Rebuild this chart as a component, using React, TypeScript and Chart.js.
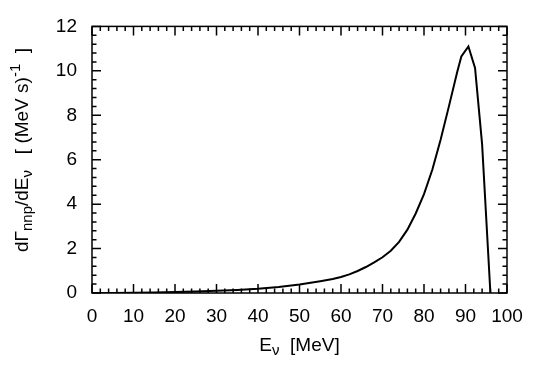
import React, { useEffect, useRef } from "react";
import { Chart, registerables } from "chart.js";

Chart.register(...registerables);

const energies = [0, 5, 10, 15, 20, 25, 30, 35, 40, 45, 50, 55, 58, 60, 62, 64, 66, 68, 70, 72, 74, 76, 78, 80, 82, 84, 86, 88, 89, 90.7, 92.3, 94, 96];
const rates = [0, 0.002, 0.008, 0.02, 0.04, 0.07, 0.1, 0.14, 0.19, 0.27, 0.38, 0.53, 0.63, 0.72, 0.84, 0.99, 1.17, 1.38, 1.61, 1.9, 2.3, 2.85, 3.58, 4.45, 5.55, 6.9, 8.4, 9.95, 10.65, 11.1, 10.13, 6.7, 0];
const xTicks = [0, 10, 20, 30, 40, 50, 60, 70, 80, 90, 100];
const yTicks = [0, 2, 4, 6, 8, 10, 12];
const xMinorStep = 2;
const yMinorStep = 0.4;

const FONT = "'Liberation Sans', Arial, sans-serif";

type Seg = { t: string; k: "n" | "sub" | "sup" };

function drawRich(ctx: CanvasRenderingContext2D, segs: Seg[], cx: number, baseY: number, mainSize: number) {
  const fontFor = (k: string) => (k === "n" ? `${mainSize}px ${FONT}` : `15px ${FONT}`);
  let total = 0;
  const widths = segs.map((s) => {
    ctx.font = fontFor(s.k);
    const w = ctx.measureText(s.t).width;
    total += w;
    return w;
  });
  let x = cx - total / 2;
  ctx.textAlign = "left";
  ctx.textBaseline = "alphabetic";
  segs.forEach((s, i) => {
    ctx.font = fontFor(s.k);
    const dy = s.k === "sub" ? 4 : s.k === "sup" ? -8 : 0;
    ctx.fillText(s.t, x, baseY + dy);
    x += widths[i];
  });
}

const framePlugin = {
  id: "frameTicks",
  afterDraw(chart: any) {
    const ctx: CanvasRenderingContext2D = chart.ctx;
    const a = chart.chartArea;
    const xs = chart.scales.x;
    const ys = chart.scales.y;
    ctx.save();
    ctx.strokeStyle = "#000";
    ctx.fillStyle = "#000";
    ctx.lineWidth = 1.5;
    ctx.strokeRect(a.left, a.top, a.right - a.left, a.bottom - a.top);
    ctx.beginPath();
    for (let i = 0; i <= 50; i++) {
      const v = i * xMinorStep;
      const px = xs.getPixelForValue(v);
      const major = xTicks.some((t) => Math.abs(t - v) < 1e-6);
      const len = major ? 9 : 4.5;
      ctx.moveTo(px, a.bottom);
      ctx.lineTo(px, a.bottom - len);
      ctx.moveTo(px, a.top);
      ctx.lineTo(px, a.top + len);
    }
    for (let i = 0; i <= 30; i++) {
      const v = i * yMinorStep;
      const py = ys.getPixelForValue(v);
      const major = yTicks.some((t) => Math.abs(t - v) < 1e-6);
      const len = major ? 9 : 4.5;
      ctx.moveTo(a.left, py);
      ctx.lineTo(a.left + len, py);
      ctx.moveTo(a.right, py);
      ctx.lineTo(a.right - len, py);
    }
    ctx.stroke();

    // x title
    drawRich(ctx, [
      { t: "E", k: "n" },
      { t: "ν", k: "sub" },
      { t: "  [MeV]", k: "n" },
    ], (a.left + a.right) / 2, 351, 19);

    // y title
    ctx.translate(28, 150);
    ctx.rotate(-Math.PI / 2);
    drawRich(ctx, [
      { t: "dΓ", k: "n" },
      { t: "nnp", k: "sub" },
      { t: "/dE", k: "n" },
      { t: "ν", k: "sub" },
      { t: "   [ (MeV s)", k: "n" },
      { t: "-1", k: "sup" },
      { t: "  ]", k: "n" },
    ], 0, 0, 19);
    ctx.restore();
  },
};

export default function App() {
  const ref = useRef<HTMLCanvasElement>(null);
  useEffect(() => {
    if (!ref.current) return;
    const chart = new Chart(ref.current, {
      type: "line",
      data: {
        datasets: [
          {
            data: energies.map((e, i) => ({ x: e, y: rates[i] })),
            borderColor: "#000",
            borderWidth: 2,
            pointRadius: 0,
            tension: 0,
            fill: false,
          },
        ],
      },
      options: {
        animation: false,
        responsive: false,
        maintainAspectRatio: false,
        layout: { padding: { top: 25, right: 38, left: 0, bottom: 0 } },
        plugins: { legend: { display: false }, tooltip: { enabled: false } },
        scales: {
          x: {
            type: "linear",
            min: 0,
            max: 100,
            afterFit: (s: any) => {
              s.height = 89;
            },
            afterBuildTicks: (s: any) => {
              s.ticks = xTicks.map((v) => ({ value: v }));
            },
            ticks: { color: "#000", font: { family: FONT, size: 19 }, padding: 12, maxRotation: 0, autoSkip: false },
            grid: { display: false, drawTicks: false },
            border: { display: false },
          },
          y: {
            type: "linear",
            min: 0,
            max: 12,
            afterFit: (s: any) => {
              s.width = 92;
            },
            afterBuildTicks: (s: any) => {
              s.ticks = yTicks.map((v) => ({ value: v }));
            },
            ticks: { color: "#000", font: { family: FONT, size: 19 }, padding: 15 },
            grid: { display: false, drawTicks: false },
            border: { display: false },
          },
        },
      },
      plugins: [framePlugin],
    });
    return () => chart.destroy();
  }, []);
  return (
    <div style={{ position: "fixed", left: 0, top: 0, width: 545, height: 382, background: "#fff" }}>
      <canvas ref={ref} width={545} height={382} style={{ width: 545, height: 382 }} />
    </div>
  );
}
